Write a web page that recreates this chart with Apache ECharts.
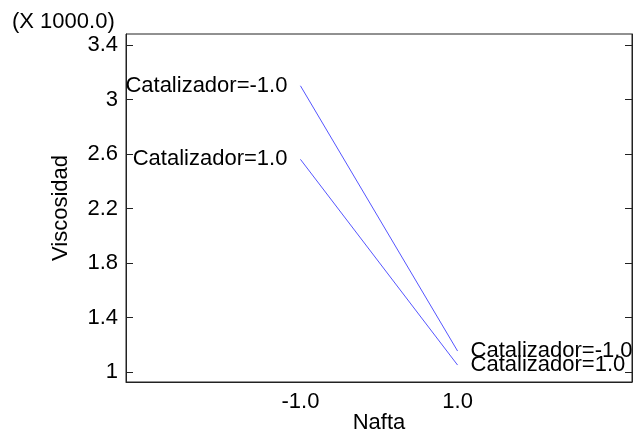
<!DOCTYPE html>
<html>
<head>
<meta charset="utf-8">
<script src="https://cdn.jsdelivr.net/npm/echarts@6/dist/echarts.min.js"></script>
<style>html,body{margin:0;padding:0;background:#fff}#c{width:634px;height:440px}</style>
</head>
<body>
<div id="c"></div>
<script>
const naftaLevels = [-1, 1];
const seriesNames = ['Catalizador=-1.0', 'Catalizador=1.0'];
const viscCatMinus = [3101, 1154];
const viscCatPlus = [2561, 1051];
const yTicks = [1000, 1400, 1800, 2200, 2600, 3000, 3400];
const xTicks = [-1, 1];

const FONT = 'Liberation Sans, Arial, sans-serif';
const chart = echarts.init(document.getElementById('c'), null, {renderer: 'canvas'});

function buildData(vals) {
  return vals.map((v, i) => ({
    value: [naftaLevels[i], v],
    label: {
      show: true,
      position: i === 0 ? 'left' : 'right',
      distance: 13,
      formatter: p => p.seriesName,
      color: '#000',
      fontSize: 22,
      fontFamily: FONT
    }
  }));
}

const yMin = 926.6, yMax = 3481;
const common = {fontSize: 22, fontFamily: FONT, color: '#000'};

chart.setOption({
  animation: false,
  backgroundColor: '#fff',
  grid: {left: 126, right: 2, top: 34, bottom: 58, show: true, borderColor: '#222', borderWidth: 1,
         containLabel: false, outerBoundsMode: 'none'},
  graphic: [{
    type: 'text', left: 12, top: 11,
    style: {text: '(X 1000.0)', fontSize: 22, fontFamily: FONT, fill: '#000'}
  }],
  xAxis: {
    type: 'value', min: -3.22, max: 3.22,
    name: 'Nafta', nameLocation: 'middle', nameGap: 30, nameMoveOverlap: false,
    nameTextStyle: common,
    axisLine: {show: true, onZero: false, lineStyle: {color: '#222'}},
    axisTick: {show: false},
    splitLine: {show: false},
    axisLabel: {customValues: xTicks, formatter: v => v.toFixed(1), margin: 9, ...common}
  },
  yAxis: [{
    type: 'value', min: yMin, max: yMax, position: 'left',
    name: 'Viscosidad', nameLocation: 'middle', nameGap: 54, nameMoveOverlap: false,
    nameTextStyle: common,
    axisLine: {show: true, onZero: false, lineStyle: {color: '#222'}},
    axisTick: {show: true, inside: true, length: 7, customValues: yTicks, lineStyle: {color: '#222'}},
    splitLine: {show: false},
    axisLabel: {customValues: yTicks, formatter: v => String(v / 1000), margin: 8, ...common}
  }, {
    type: 'value', min: yMin, max: yMax, position: 'right',
    axisLine: {show: true, onZero: false, lineStyle: {color: '#222'}},
    axisTick: {show: true, inside: true, length: 7, customValues: yTicks, lineStyle: {color: '#222'}},
    splitLine: {show: false},
    axisLabel: {show: false}
  }],
  series: [{
    name: seriesNames[0], type: 'line', data: buildData(viscCatMinus),
    symbol: 'circle', symbolSize: 0, showSymbol: true,
    lineStyle: {color: '#5555ff', width: 1}, itemStyle: {color: '#5555ff'},
    clip: false
  }, {
    name: seriesNames[1], type: 'line', data: buildData(viscCatPlus),
    symbol: 'circle', symbolSize: 0, showSymbol: true,
    lineStyle: {color: '#5555ff', width: 1}, itemStyle: {color: '#5555ff'},
    clip: false
  }]
});
</script>
</body>
</html>
